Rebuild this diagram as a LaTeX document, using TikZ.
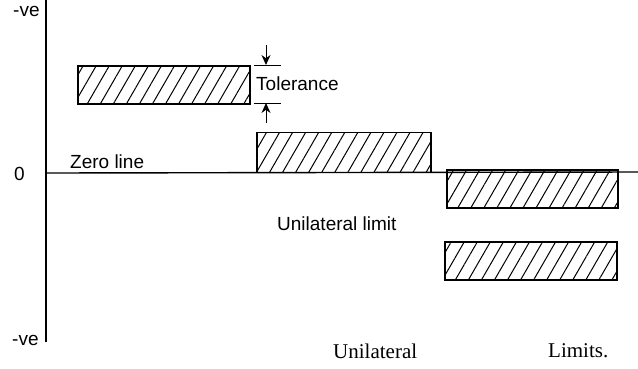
\documentclass[tikz,border=0pt]{standalone}
\usepackage{fontspec}
\setmainfont{Liberation Serif}
\setsansfont{Liberation Sans}
\usetikzlibrary{patterns.meta,arrows.meta}
\begin{document}
\begin{tikzpicture}[x=1pt,y=-1pt,
  hatchbox/.style={draw,line width=1.1pt,inner sep=0pt,minimum width=172pt,minimum height=38pt,
    pattern={Lines[angle=60,distance=11.3pt,line width=1pt]}},
  lbl/.style={font=\sffamily\fontsize{19}{22}\selectfont,inner sep=0pt,anchor=west},
  serif/.style={font=\rmfamily\fontsize{21}{24}\selectfont,inner sep=0pt,anchor=west},
  axis/.style={line width=1.4pt},
  tick/.style={line width=1pt},
  tarrow/.style={line width=1pt,-{Stealth[length=10pt,width=9pt]}}]
\useasboundingbox (0,0) rectangle (638,368);
% axes
\coordinate (ytop) at (46,0);
\coordinate (ybot) at (46,342);
\coordinate (zl) at (46,173);
\coordinate (zr) at (638,172);
\draw[axis] (ytop) -- (ybot);
\draw[axis] (zl) -- (zr);
% boxes
\node[hatchbox] (b1) at (164,85) {};
\node[hatchbox,minimum width=174pt,minimum height=40pt] (b2) at (344,152.5) {};
\node[hatchbox,minimum width=171pt,minimum height=38pt] (b3) at (532.5,189) {};
\node[hatchbox,minimum width=172pt,minimum height=38pt] (b4) at (531,261) {};
% tolerance
\coordinate (t1l) at (254,65);
\coordinate (t1r) at (281,65);
\coordinate (t2l) at (254,103);
\coordinate (t2r) at (281,103);
\coordinate (a1s) at (266,45);
\coordinate (a1e) at (266,65);
\coordinate (a2s) at (266,123);
\coordinate (a2e) at (266,103);
\draw[tick] (t1l) -- (t1r);
\draw[tick] (t2l) -- (t2r);
\draw[tarrow] (a1s) -- (a1e);
\draw[tarrow] (a2s) -- (a2e);
% labels
\node[lbl] (tol) at (256,84) {Tolerance};
\node[lbl] (zero) at (70,162) {Zero line};
\node[lbl] (ulim) at (277,224) {Unilateral limit};
\node[lbl] (o) at (14,174) {0};
\node[lbl] (vt) at (13,11) {-ve};
\node[lbl] (vb) at (12,340) {-ve};
\node[serif] (u) at (333,351) {Unilateral};
\node[serif] (l) at (548,351) {Limits.};
\end{tikzpicture}
\end{document}
